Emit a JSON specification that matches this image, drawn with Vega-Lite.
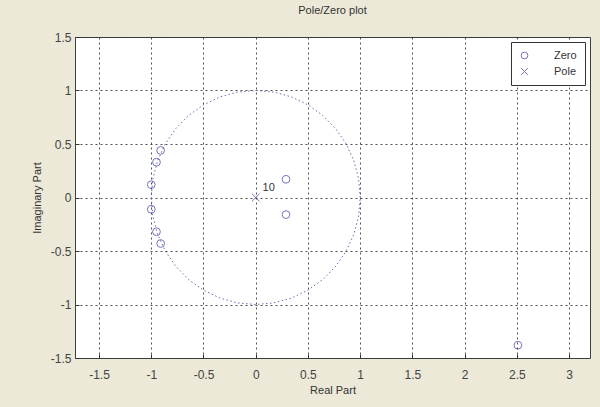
{
  "$schema": "https://vega.github.io/schema/vega-lite/v6.json",
  "width": 515,
  "height": 321,
  "autosize": {"type": "none"},
  "padding": {"left": 75, "top": 37, "right": 10, "bottom": 49},
  "background": "#ECE9D8",
  "config": {
    "view": {"fill": "white", "stroke": "#404040", "strokeWidth": 1},
    "font": "Liberation Sans",
    "axis": {
      "grid": true,
      "gridDash": [2, 3],
      "gridColor": "#333333",
      "gridOpacity": 0.85,
      "domain": false,
      "tickSize": -4,
      "tickColor": "#333333",
      "labelFontSize": 12,
      "labelColor": "#444444",
      "titleFontSize": 11,
      "titleFontWeight": "normal",
      "titleColor": "#333333"
    }
  },
  "title": {"text": "Pole/Zero plot", "fontSize": 11, "fontWeight": "normal", "color": "#333333", "offset": 15, "font": "Liberation Sans"},
  "datasets": {
    "circle": [
      {"ang": 0, "re": 1, "im": 0},
      {"ang": 10, "re": 0.985, "im": 0.174},
      {"ang": 20, "re": 0.94, "im": 0.342},
      {"ang": 30, "re": 0.866, "im": 0.5},
      {"ang": 40, "re": 0.766, "im": 0.643},
      {"ang": 50, "re": 0.643, "im": 0.766},
      {"ang": 60, "re": 0.5, "im": 0.866},
      {"ang": 70, "re": 0.342, "im": 0.94},
      {"ang": 80, "re": 0.174, "im": 0.985},
      {"ang": 90, "re": 0, "im": 1},
      {"ang": 100, "re": -0.174, "im": 0.985},
      {"ang": 110, "re": -0.342, "im": 0.94},
      {"ang": 120, "re": -0.5, "im": 0.866},
      {"ang": 130, "re": -0.643, "im": 0.766},
      {"ang": 140, "re": -0.766, "im": 0.643},
      {"ang": 150, "re": -0.866, "im": 0.5},
      {"ang": 160, "re": -0.94, "im": 0.342},
      {"ang": 170, "re": -0.985, "im": 0.174},
      {"ang": 180, "re": -1, "im": 0},
      {"ang": 190, "re": -0.985, "im": -0.174},
      {"ang": 200, "re": -0.94, "im": -0.342},
      {"ang": 210, "re": -0.866, "im": -0.5},
      {"ang": 220, "re": -0.766, "im": -0.643},
      {"ang": 230, "re": -0.643, "im": -0.766},
      {"ang": 240, "re": -0.5, "im": -0.866},
      {"ang": 250, "re": -0.342, "im": -0.94},
      {"ang": 260, "re": -0.174, "im": -0.985},
      {"ang": 270, "re": 0, "im": -1},
      {"ang": 280, "re": 0.174, "im": -0.985},
      {"ang": 290, "re": 0.342, "im": -0.94},
      {"ang": 300, "re": 0.5, "im": -0.866},
      {"ang": 310, "re": 0.643, "im": -0.766},
      {"ang": 320, "re": 0.766, "im": -0.643},
      {"ang": 330, "re": 0.866, "im": -0.5},
      {"ang": 340, "re": 0.94, "im": -0.342},
      {"ang": 350, "re": 0.985, "im": -0.174},
      {"ang": 360, "re": 1, "im": 0}
    ],
    "roots": [
      {"type": "Zero", "re": -0.91, "im": 0.44},
      {"type": "Zero", "re": -0.95, "im": 0.33},
      {"type": "Zero", "re": -1.0, "im": 0.12},
      {"type": "Zero", "re": -1.0, "im": -0.11},
      {"type": "Zero", "re": -0.95, "im": -0.32},
      {"type": "Zero", "re": -0.91, "im": -0.43},
      {"type": "Zero", "re": 0.29, "im": 0.17},
      {"type": "Zero", "re": 0.29, "im": -0.16},
      {"type": "Zero", "re": 2.51, "im": -1.38},
      {"type": "Pole", "re": 0, "im": 0}
    ],
    "mult": [
      {"re": 0, "im": 0, "label": "10"}
    ]
  },
  "layer": [
    {
      "data": {"name": "circle"},
      "mark": {"type": "line", "strokeDash": [1.5, 2.5], "strokeWidth": 1, "color": "#6b6bb0"},
      "encoding": {
        "x": {"field": "re", "type": "quantitative", "scale": {"domain": [-1.73, 3.2], "nice": false, "zero": false},
              "axis": {"values": [-1.5, -1, -0.5, 0, 0.5, 1, 1.5, 2, 2.5, 3], "labelExpr": "'' + datum.value", "title": "Real Part", "labelPadding": 15, "titlePadding": 4}},
        "y": {"field": "im", "type": "quantitative", "scale": {"domain": [-1.5, 1.5], "nice": false, "zero": false},
              "axis": {"values": [-1.5, -1, -0.5, 0, 0.5, 1, 1.5], "labelExpr": "'' + datum.value", "title": "Imaginary Part", "labelPadding": 8, "titlePadding": 8}},
        "order": {"field": "ang", "type": "quantitative"}
      }
    },
    {
      "data": {"name": "roots"},
      "mark": {"type": "point", "filled": false, "strokeWidth": 1, "color": "#3c3ca6", "size": 60},
      "encoding": {
        "x": {"field": "re", "type": "quantitative"},
        "y": {"field": "im", "type": "quantitative"},
        "shape": {"field": "type", "type": "nominal",
                  "scale": {"domain": ["Zero", "Pole"], "range": ["circle", "M-1,-1L1,1M-1,1L1,-1"]},
                  "legend": {"title": null, "orient": "top-right", "offset": 5, "strokeColor": "#333333", "fillColor": "white",
                             "padding": 8, "labelFontSize": 11, "labelColor": "#333333", "labelOffset": 24,
                             "labelExpr": "datum.label + '\u00a0\u00a0\u00a0\u00a0\u00a0\u00a0'",
                             "symbolStrokeColor": "#3c3ca6", "symbolSize": 45, "symbolStrokeWidth": 1, "rowPadding": 4}}
      }
    },
    {
      "data": {"name": "mult"},
      "mark": {"type": "text", "dx": 13, "dy": -10, "fontSize": 11, "color": "#333333"},
      "encoding": {
        "x": {"field": "re", "type": "quantitative"},
        "y": {"field": "im", "type": "quantitative"},
        "text": {"field": "label"}
      }
    }
  ]
}
